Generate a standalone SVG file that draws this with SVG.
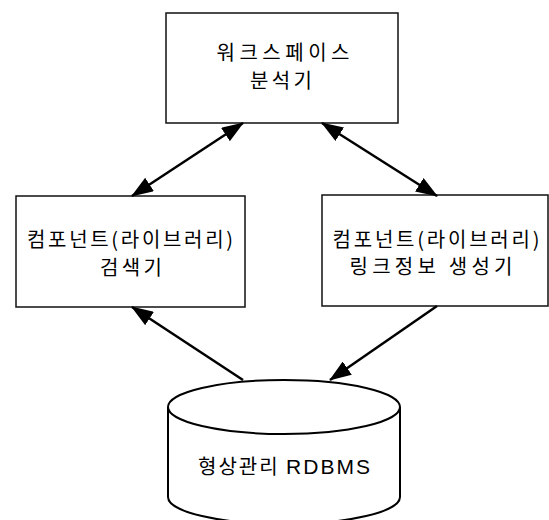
<svg xmlns="http://www.w3.org/2000/svg" width="549" height="520" viewBox="0 0 549 520">
<defs>
<style>
.box{fill:#fff;stroke:#111;stroke-width:1.5}
.db{fill:#fff;stroke:#000;stroke-width:2}
.lbl{font-family:"Noto Sans CJK KR","Noto Sans",sans-serif;font-size:20px;fill:#000;text-anchor:middle}
.lat{font-family:"Liberation Sans",Arial,sans-serif;font-size:21px}
.conn{stroke:#000;stroke-width:2.5;fill:none}
</style>
<marker id="ah" viewBox="0 0 22 16" refX="21" refY="8" markerWidth="22" markerHeight="16" markerUnits="userSpaceOnUse" orient="auto-start-reverse">
<path d="M0,0 L22,8 L0,16 Z" fill="#000"/>
</marker>
</defs>
<rect width="549" height="520" fill="#fff"/>
<g id="workspace-analyzer">
<rect class="box" x="166" y="13" width="232" height="110"/>
<text class="lbl" x="283" y="60" textLength="133" lengthAdjust="spacing">워크스페이스</text>
<text class="lbl" x="281" y="88" textLength="62" lengthAdjust="spacing">분석기</text>
</g>
<g id="component-search">
<rect class="box" x="16" y="196" width="229" height="111"/>
<text class="lbl" x="130" y="247" textLength="206" lengthAdjust="spacing">컴포넌트(라이브러리)</text>
<text class="lbl" x="131" y="275" textLength="62" lengthAdjust="spacing">검색기</text>
</g>
<g id="component-link-generator">
<rect class="box" x="322" y="195" width="226" height="111"/>
<text class="lbl" x="436" y="247" textLength="207" lengthAdjust="spacing">컴포넌트(라이브러리)</text>
<text class="lbl" x="431" y="274" textLength="163" lengthAdjust="spacing">링크정보 생성기</text>
</g>
<g id="rdbms">
<path class="db" d="M168,407 L168,497 A116,27 0 0 0 400,497 L400,407"/>
<ellipse class="db" cx="284" cy="407" rx="116" ry="27"/>
<text class="lbl" x="284" y="474" textLength="172" lengthAdjust="spacing">형상관리 <tspan class="lat">RDBMS</tspan></text>
</g>
<g id="connectors">
<line class="conn" x1="243" y1="123" x2="132" y2="196" marker-start="url(#ah)" marker-end="url(#ah)"/>
<line class="conn" x1="322" y1="123" x2="437" y2="196" marker-start="url(#ah)" marker-end="url(#ah)"/>
<line class="conn" x1="243" y1="380" x2="132" y2="307" marker-end="url(#ah)"/>
<line class="conn" x1="437" y1="306" x2="330" y2="380" marker-end="url(#ah)"/>
</g>
</svg>
